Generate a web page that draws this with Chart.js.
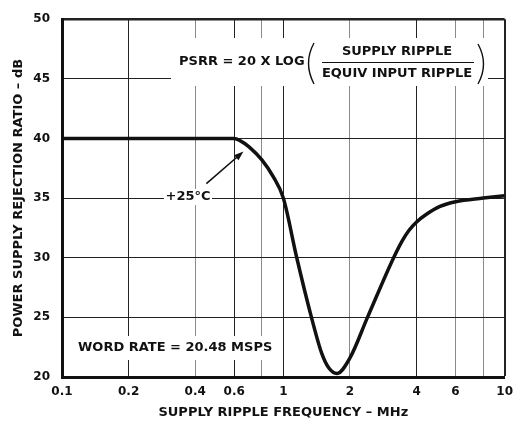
<!DOCTYPE html>
<html>
<head>
<meta charset="utf-8">
<script src="https://cdn.jsdelivr.net/npm/chart.js@4"></script>
<style>
  html, body { margin: 0; padding: 0; background: #fff; }
  #wrap { width: 521px; height: 429px; }
</style>
</head>
<body>
<div id="wrap"><canvas id="chart" width="521" height="429"></canvas></div>
<script>
// PSRR vs supply ripple frequency
const freq = [0.1, 0.2, 0.4, 0.6, 0.64, 0.7, 0.8, 0.9, 1.0, 1.15, 1.34, 1.49, 1.6, 1.75, 2.0, 2.4, 3.15, 3.44, 3.7, 4.0, 4.4, 5.1, 6.0, 8.0, 10];
const psrr = [40, 40, 40, 40, 39.8, 39.3, 38.2, 36.8, 35.0, 30, 25, 22, 20.8, 20.3, 21.6, 25, 30, 31.4, 32.3, 33, 33.6, 34.3, 34.7, 35.0, 35.2];

const xTicks = [0.1, 0.2, 0.4, 0.6, 0.8, 1, 2, 4, 6, 8, 10];
const xTickLabels = ['0.1', '0.2', '0.4', '0.6', '', '1', '2', '4', '6', '', '10'];
const xMajor = [0.2, 0.6, 1, 4];
const yTicks = [20, 25, 30, 35, 40, 45, 50];

const FONT = 'DejaVu Sans';
const INK = '#111';

const notes = {
    id: 'notes',
    beforeDatasetsDraw(chart) {
        const ctx = chart.ctx;
        ctx.save();
        ctx.fillStyle = '#fff';
        ctx.fillRect(171, 38, 317, 48);   // PSRR formula
        ctx.fillRect(74, 336, 198, 24);   // word rate
        ctx.fillRect(164, 189, 48, 16);   // +25°C

        ctx.fillStyle = INK;
        ctx.strokeStyle = INK;
        ctx.font = 'bold 13px "' + FONT + '"';
        ctx.textBaseline = 'middle';

        ctx.textAlign = 'left';
        ctx.fillText('PSRR = 20 X LOG', 179, 62);
        ctx.fillText('WORD RATE = 20.48 MSPS', 78, 348);

        ctx.textAlign = 'center';
        ctx.fillText('SUPPLY RIPPLE', 397, 52);
        ctx.fillText('EQUIV INPUT RIPPLE', 397, 74);
        ctx.fillText('+25°C', 188, 197);

        ctx.lineWidth = 1.2;
        ctx.beginPath();
        ctx.moveTo(322, 62.5);
        ctx.lineTo(474, 62.5);
        ctx.stroke();

        // brackets round the fraction
        ctx.lineWidth = 1.4;
        ctx.beginPath();
        ctx.moveTo(314, 43);
        ctx.quadraticCurveTo(303, 63, 314, 84);
        ctx.moveTo(478, 44);
        ctx.quadraticCurveTo(489, 64, 478, 84);
        ctx.stroke();

        // arrow to the curve
        const x = chart.scales.x, y = chart.scales.y;
        const tx = x.getPixelForValue(0.66), ty = y.getPixelForValue(38.9);
        const fx = tx - 37, fy = ty + 32;
        const ang = Math.atan2(ty - fy, tx - fx);
        ctx.lineWidth = 1.6;
        ctx.beginPath();
        ctx.moveTo(fx, fy);
        ctx.lineTo(tx - 6 * Math.cos(ang), ty - 6 * Math.sin(ang));
        ctx.stroke();
        ctx.beginPath();
        ctx.moveTo(tx, ty);
        ctx.lineTo(tx - 10 * Math.cos(ang - 0.35), ty - 10 * Math.sin(ang - 0.35));
        ctx.lineTo(tx - 10 * Math.cos(ang + 0.35), ty - 10 * Math.sin(ang + 0.35));
        ctx.closePath();
        ctx.fill();
        ctx.restore();
    }
};

const ctx = document.getElementById('chart');
const chart = new Chart(ctx, {
    type: 'line',
    data: {
        datasets: [{
            data: freq.map((f, i) => ({x: f, y: psrr[i]})),
            borderColor: INK,
            borderWidth: 3.5,
            pointRadius: 0,
            cubicInterpolationMode: 'monotone',
            fill: false
        }]
    },
    options: {
        responsive: false,
        animation: false,
        events: [],
        layout: {padding: {left: 0, right: 13, top: 14, bottom: 0}},
        plugins: {legend: {display: false}, tooltip: {enabled: false}},
        scales: {
            x: {
                type: 'logarithmic',
                min: 0.1,
                max: 10,
                afterFit: s => { s.height = 52; },
                afterBuildTicks: s => { s.ticks = xTicks.map(v => ({value: v})); },
                border: {display: true, color: INK, width: 3},
                grid: {
                    drawTicks: false,
                    color: c => xMajor.includes(c.tick.value) || c.tick.value === 10 ? '#222' : '#8a8a8a',
                    lineWidth: c => c.tick.value === 10 ? 2 : 1
                },
                ticks: {
                    autoSkip: false,
                    maxRotation: 0,
                    padding: 8,
                    color: INK,
                    font: {family: FONT, size: 12, weight: 'bold'},
                    callback: (v, i) => xTickLabels[i]
                },
                title: {
                    display: true,
                    text: 'SUPPLY RIPPLE FREQUENCY – MHz',
                    color: INK,
                    font: {family: FONT, size: 13, weight: 'bold'},
                    padding: {top: 0, bottom: 9}
                }
            },
            y: {
                min: 20,
                max: 50,
                afterFit: s => { s.width = 62; },
                afterBuildTicks: s => { s.ticks = yTicks.map(v => ({value: v})); },
                border: {display: true, color: INK, width: 3},
                grid: {
                    drawTicks: false,
                    color: '#222',
                    lineWidth: c => c.tick.value === 50 ? 2.5 : 1
                },
                ticks: {
                    padding: 12,
                    color: INK,
                    font: {family: FONT, size: 12, weight: 'bold'}
                },
                title: {
                    display: true,
                    text: 'POWER SUPPLY REJECTION RATIO – dB',
                    color: INK,
                    font: {family: FONT, size: 13, weight: 'bold'},
                    padding: {top: 11, bottom: 0}
                }
            }
        }
    },
    plugins: [notes]
});
</script>
</body>
</html>
